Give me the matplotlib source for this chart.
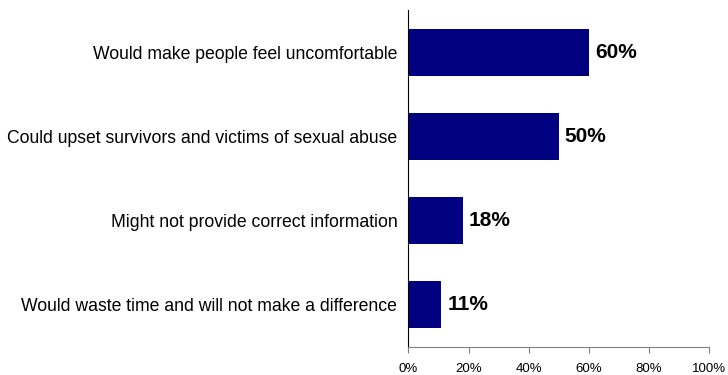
import matplotlib.pyplot as plt
from matplotlib.ticker import FuncFormatter

plt.rcParams['font.family'] = ['Liberation Sans', 'DejaVu Sans']

reasons = ['Would make people feel uncomfortable',
           'Could upset survivors and victims of sexual abuse',
           'Might not provide correct information',
           'Would waste time and will not make a difference']
percent = [60, 50, 18, 11]

fig = plt.figure(figsize=(7.28, 3.75), dpi=100)
ax = fig.add_axes([0.561, 0.0755, 0.413, 0.8975])

pos = list(range(len(reasons)))
ax.barh(pos, percent, height=0.56, color='#000080')
ax.set_ylim(len(reasons) - 0.5, -0.5)
ax.set_xlim(0, 100)

for y, v in zip(pos, percent):
    ax.text(v + 2, y, f'{v}%', va='center', ha='left',
            fontsize=15, fontweight='bold', color='black')

ax.set_yticks(pos)
ax.set_yticklabels(reasons, fontsize=12.7)
ax.tick_params(axis='y', length=0, pad=8)

ax.set_xticks(range(0, 101, 20))
ax.xaxis.set_major_formatter(FuncFormatter(lambda x, _: f'{x:.0f}%'))
ax.tick_params(axis='x', length=4, color='#808080', labelsize=9.5, pad=8)

for s in ['top', 'right']:
    ax.spines[s].set_visible(False)
ax.spines['left'].set_color('black')
ax.spines['bottom'].set_color('#808080')

fig.savefig('out.png', dpi=100)
